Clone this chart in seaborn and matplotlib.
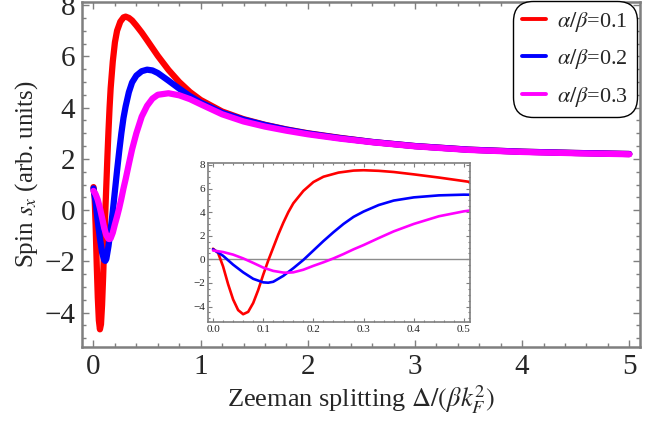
import numpy as np
import pandas as pd
import matplotlib
matplotlib.use("Agg")
import matplotlib.pyplot as plt
from matplotlib.ticker import MultipleLocator
import seaborn as sns

# ---- data ----
x_red = [0.00, 0.01, 0.02, 0.03, 0.04, 0.05, 0.06, 0.07, 0.08, 0.09, 0.10, 0.11, 0.12,
         0.13, 0.14, 0.15, 0.16, 0.18, 0.20, 0.22, 0.25, 0.28, 0.30, 0.33, 0.36, 0.40,
         0.45, 0.50, 0.60, 0.70, 0.80, 0.90, 1.00, 1.20, 1.40, 1.60, 1.80, 2.00, 2.30,
         2.60, 3.00, 3.50, 4.00, 4.50, 5.00]
y_red = [0.90, 0.55, -0.60, -2.10, -3.40, -4.30, -4.65, -4.45, -3.70, -2.60, -1.30, -0.10, 1.00,
         2.10, 3.10, 4.00, 4.75, 5.80, 6.55, 7.00, 7.35, 7.52, 7.55, 7.50, 7.40, 7.20,
         6.93, 6.63, 6.02, 5.47, 5.00, 4.61, 4.30, 3.85, 3.55, 3.33, 3.15, 3.00, 2.82,
         2.66, 2.50, 2.36, 2.28, 2.23, 2.19]

x_blue = [0.00, 0.02, 0.04, 0.06, 0.08, 0.10, 0.11, 0.12, 0.14, 0.16, 0.18, 0.20, 0.22,
          0.24, 0.26, 0.28, 0.30, 0.33, 0.36, 0.40, 0.45, 0.50, 0.55, 0.60, 0.70, 0.80,
          0.90, 1.00, 1.20, 1.40, 1.60, 1.80, 2.00, 2.30, 2.60, 3.00, 3.50, 4.00, 4.50, 5.00]
y_blue = [0.85, 0.30, -0.45, -1.10, -1.65, -1.95, -1.98, -1.90, -1.40, -0.75, -0.05, 0.75, 1.55,
          2.30, 3.00, 3.60, 4.05, 4.60, 4.98, 5.25, 5.42, 5.48, 5.45, 5.35, 5.05, 4.74,
          4.45, 4.20, 3.80, 3.53, 3.32, 3.14, 2.99, 2.81, 2.66, 2.50, 2.36, 2.28, 2.23, 2.19]

x_mag = [0.00, 0.02, 0.04, 0.06, 0.08, 0.10, 0.12, 0.14, 0.15, 0.16, 0.18, 0.20, 0.22,
         0.24, 0.26, 0.28, 0.30, 0.33, 0.36, 0.40, 0.45, 0.50, 0.55, 0.60, 0.70, 0.80,
         0.90, 1.00, 1.20, 1.40, 1.60, 1.80, 2.00, 2.30, 2.60, 3.00, 3.50, 4.00, 4.50, 5.00]
y_mag = [0.75, 0.62, 0.40, 0.08, -0.30, -0.70, -0.98, -1.12, -1.13, -1.10, -0.88, -0.55, -0.25,
         0.08, 0.45, 0.85, 1.21, 1.80, 2.37, 3.00, 3.65, 4.07, 4.35, 4.50, 4.56, 4.48,
         4.33, 4.13, 3.74, 3.46, 3.26, 3.10, 2.96, 2.79, 2.65, 2.49, 2.35, 2.27, 2.22, 2.18]

labels = [r"$\alpha/\beta$=0.1", r"$\alpha/\beta$=0.2", r"$\alpha/\beta$=0.3"]
colors = ["#FF0000", "#0000FF", "#FF00FF"]

main_xticks = [0, 1, 2, 3, 4, 5]
main_yticks = [-4, -2, 0, 2, 4, 6, 8]
inset_xticks = [0.0, 0.1, 0.2, 0.3, 0.4, 0.5]
inset_yticks = [-4, -2, 0, 2, 4, 6, 8]

frames = []
for xs, ys, lab in zip([x_red, x_blue, x_mag], [y_red, y_blue, y_mag], labels):
    frames.append(pd.DataFrame({"x": xs, "y": ys, "series": lab}))
df = pd.concat(frames, ignore_index=True)

# ---- style ----
sns.set_style("ticks")
plt.rcParams["font.family"] = ["Liberation Serif", "DejaVu Serif"]
plt.rcParams["mathtext.fontset"] = "stix"

GRAY = "#7f7f7f"


def fmt(v):
    return ("\u2212" + str(-v)) if v < 0 else str(v)


fig = plt.figure(figsize=(6.68, 4.26), dpi=100)
ax = fig.add_axes([0.1228, 0.1854, 0.8353, 0.8099])

sns.lineplot(data=df, x="x", y="y", hue="series", palette=colors, hue_order=labels,
             estimator=None, sort=False, linewidth=4.5, ax=ax, legend=True)

ax.set_xlim(-0.107, 5.10)
ax.set_ylim(-5.34, 8.12)
ax.set_xticks(main_xticks)
ax.set_yticks(main_yticks)
ax.set_xticklabels([str(v) for v in main_xticks])
ax.set_yticklabels([fmt(v) for v in main_yticks])
ax.xaxis.set_minor_locator(MultipleLocator(0.2))
ax.yaxis.set_minor_locator(MultipleLocator(0.5))
ax.tick_params(which="both", direction="in", top=True, right=True, color=GRAY,
               labelsize=21, width=1.0, pad=5)
ax.tick_params(which="major", length=5)
ax.tick_params(which="minor", length=2.8)
for sp in ax.spines.values():
    sp.set_color(GRAY)
    sp.set_linewidth(1.8)
ax.set_xlabel(r"Zeeman splitting $\Delta/(\beta k_F^2)$", fontsize=19, labelpad=2)
ax.set_ylabel(r"Spin $s_x$ (arb. units)", fontsize=18, labelpad=3)

handles = ax.get_legend().legend_handles
leg = ax.legend(handles=handles, labels=labels, loc="upper right",
                bbox_to_anchor=(0.986, 0.99), borderaxespad=0.0,
                fontsize=16, frameon=True, fancybox=True, edgecolor="black",
                framealpha=1.0, handlelength=1.05, handletextpad=0.5,
                borderpad=0.2, labelspacing=0.6)
for h in leg.get_lines():
    h.set_linewidth(2.8)
leg.get_frame().set_linewidth(1.0)
leg.get_frame().set_boxstyle("round", pad=0.2, rounding_size=0.9)

# ---- inset ----
axi = fig.add_axes([0.3114, 0.2441, 0.3922, 0.3732])
axi.axhline(0, color="#8c8c8c", linewidth=1.0, zorder=1)
sns.lineplot(data=df, x="x", y="y", hue="series", palette=colors, hue_order=labels,
             estimator=None, sort=False, linewidth=1.9, ax=axi, legend=False)
axi.set_xlim(-0.01, 0.512)
axi.set_ylim(-5.31, 8.16)
axi.set_xticks(inset_xticks)
axi.set_yticks(inset_yticks)
axi.set_xticklabels([f"{v:.1f}" for v in inset_xticks])
axi.set_yticklabels([fmt(v) for v in inset_yticks])
axi.xaxis.set_minor_locator(MultipleLocator(0.02))
axi.yaxis.set_minor_locator(MultipleLocator(0.5))
axi.tick_params(which="both", direction="in", top=True, right=True, color=GRAY,
                labelsize=8, width=0.8, pad=2)
axi.tick_params(which="major", length=3)
axi.tick_params(which="minor", length=1.6)
for sp in axi.spines.values():
    sp.set_color(GRAY)
    sp.set_linewidth(1.2)
axi.set_xlabel("")
axi.set_ylabel("")
axi.set_facecolor("white")

fig.savefig("out.png", dpi=100)
